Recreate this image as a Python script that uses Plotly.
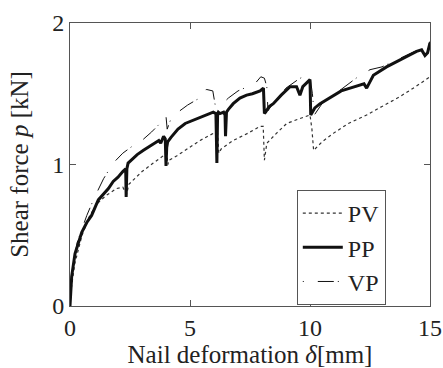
import plotly.graph_objects as go

# PP (thick solid)
pp_x = [0, 0.02, 0.07, 0.21, 0.35, 0.49, 0.7, 0.9, 1.18, 1.4, 1.6, 1.8, 2.0, 2.2, 2.32, 2.34, 2.37, 2.42, 2.6, 2.8, 3.06, 3.4, 3.7, 3.78, 3.9, 3.97, 4.0, 4.03, 4.07, 4.2, 4.5, 4.8, 5.1, 5.42, 5.7, 5.97, 6.08, 6.12, 6.15, 6.18, 6.25, 6.4, 6.46, 6.48, 6.52, 6.6, 6.8, 7.08, 7.36, 7.6, 7.92, 8.06, 8.1, 8.15, 8.3, 8.47, 8.8, 9.17, 9.44, 9.58, 9.7, 9.86, 10.0, 10.03, 10.06, 10.2, 10.42, 10.97, 11.3, 11.67, 12.0, 12.25, 12.36, 12.45, 12.64, 13.19, 13.75, 14.1, 14.44, 14.65, 14.79, 14.9, 15.0]
pp_y = [0, 0.1, 0.21, 0.37, 0.45, 0.52, 0.59, 0.64, 0.75, 0.79, 0.83, 0.88, 0.91, 0.95, 0.97, 0.77, 0.97, 1.01, 1.04, 1.07, 1.1, 1.14, 1.17, 1.15, 1.2, 1.18, 0.99, 1.12, 1.16, 1.19, 1.25, 1.29, 1.31, 1.33, 1.35, 1.37, 1.36, 1.01, 1.36, 1.37, 1.36, 1.37, 1.35, 1.2, 1.37, 1.39, 1.43, 1.47, 1.49, 1.5, 1.52, 1.54, 1.36, 1.37, 1.41, 1.43, 1.49, 1.55, 1.55, 1.49, 1.55, 1.58, 1.6, 1.35, 1.36, 1.4, 1.43, 1.49, 1.52, 1.54, 1.56, 1.57, 1.54, 1.57, 1.63, 1.69, 1.74, 1.77, 1.8, 1.81, 1.77, 1.79, 1.86]

# PV (dotted)
pv_x = [0, 0.05, 0.2, 0.5, 0.8, 1.11, 1.5, 1.94, 2.2, 2.36, 2.45, 2.64, 3.0, 3.47, 4.03, 4.08, 4.12, 4.44, 5.0, 5.42, 5.97, 6.15, 6.2, 6.3, 6.8, 7.4, 7.92, 8.05, 8.1, 8.2, 8.6, 9.03, 9.5, 10.0, 10.08, 10.15, 10.5, 10.97, 11.6, 12.36, 13.0, 13.75, 14.4, 15.0]
pv_y = [0, 0.12, 0.3, 0.5, 0.63, 0.72, 0.78, 0.83, 0.84, 0.79, 0.86, 0.89, 0.95, 1.01, 1.08, 1.0, 1.03, 1.06, 1.12, 1.17, 1.22, 1.22, 1.08, 1.11, 1.17, 1.22, 1.27, 1.27, 1.03, 1.15, 1.22, 1.29, 1.32, 1.35, 1.25, 1.10, 1.16, 1.22, 1.29, 1.35, 1.41, 1.48, 1.55, 1.62]

# VP (long dash)
vp_x = [0, 0.1, 0.3, 0.5, 0.7, 1.0, 1.4, 1.8, 2.2, 2.6, 3.0, 3.4, 3.75, 3.85, 4.0, 4.05, 4.2, 4.5, 4.9, 5.3, 5.45, 5.7, 5.95, 6.05, 6.3, 6.6, 7.0, 7.4, 7.75, 7.95, 8.1, 8.2, 8.25, 8.5, 9.0, 9.5, 9.8, 10.0, 10.1, 10.18, 10.5, 10.9, 11.5, 12.0, 12.5, 13.0, 13.5, 14.0, 14.5, 14.8, 15.0]
vp_y = [0, 0.25, 0.45, 0.55, 0.64, 0.76, 0.9, 1.01, 1.08, 1.13, 1.17, 1.23, 1.29, 1.34, 1.34, 1.25, 1.32, 1.37, 1.42, 1.46, 1.52, 1.53, 1.52, 1.42, 1.42, 1.47, 1.52, 1.55, 1.58, 1.62, 1.61, 1.55, 1.38, 1.44, 1.54, 1.6, 1.63, 1.62, 1.5, 1.35, 1.43, 1.48, 1.56, 1.62, 1.67, 1.69, 1.73, 1.77, 1.81, 1.8, 1.87]

x_ticks = [0, 5, 10, 15]
y_ticks = [0, 1, 2]

FONT = "Times New Roman, Liberation Serif, serif"
FS = 24
FT = 25

fig = go.Figure()
fig.add_trace(go.Scatter(x=pv_x, y=pv_y, mode="lines", name="PV", legendrank=1,
                         line=dict(color="#333333", width=1.2, dash="dot")))
fig.add_trace(go.Scatter(x=vp_x, y=vp_y, mode="lines", name="VP", legendrank=3,
                         line=dict(color="#111111", width=1, dash="1px,14px,16px,4px")))
fig.add_trace(go.Scatter(x=pp_x, y=pp_y, mode="lines", name="PP", legendrank=2,
                         line=dict(color="#111111", width=3)))

axis_common = dict(showline=True, linecolor="#555555", linewidth=1, mirror="ticks",
                   ticks="inside", ticklen=6, tickcolor="#555555", showgrid=False,
                   zeroline=False, automargin=False,
                   tickfont=dict(family=FONT, size=FS, color="#222222"))

fig.update_layout(
    width=443, height=368,
    margin=dict(l=70, r=13, t=23, b=62),
    plot_bgcolor="white", paper_bgcolor="white",
    font=dict(family=FONT, size=FS, color="#222222"),
    xaxis=dict(range=[0, 15], tickvals=x_ticks,
               title=dict(text="Nail deformation <i>δ</i>[mm]", standoff=0,
                          font=dict(family=FONT, size=FT)), **axis_common),
    yaxis=dict(range=[0, 2], tickvals=y_ticks,
               title=dict(text="Shear force <i>p</i> [kN]", standoff=16,
                          font=dict(family=FONT, size=FT)), **axis_common),
    legend=dict(x=0.63, y=0.41, xanchor="left", yanchor="top",
                bgcolor="white", bordercolor="#555555", borderwidth=1,
                font=dict(family=FONT, size=FS, color="#222222"),
                traceorder="normal", tracegroupgap=0, itemwidth=40),
    showlegend=True,
)

fig.write_html("out.html")
